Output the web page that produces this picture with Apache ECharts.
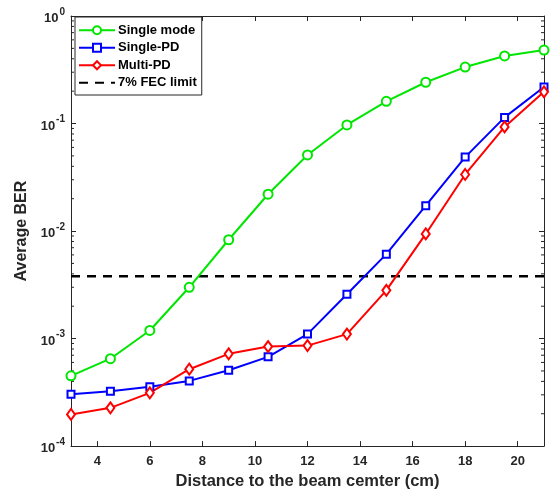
<!DOCTYPE html>
<html>
<head>
<meta charset="utf-8">
<script src="https://cdn.jsdelivr.net/npm/echarts@6/dist/echarts.min.js"></script>
<style>html,body{margin:0;padding:0;background:#fff}#c{width:552px;height:495px}</style>
</head>
<body>
<div id="c"></div>
<script>
const distances = [3, 4.5, 6, 7.5, 9, 10.5, 12, 13.5, 15, 16.5, 18, 19.5, 21];
const singleMode = [4.5e-4, 6.5e-4, 1.19e-3, 3.0e-3, 8.3e-3, 0.022, 0.051, 0.097, 0.161, 0.242, 0.335, 0.425, 0.482];
const singlePD = [3.04e-4, 3.24e-4, 3.56e-4, 4.04e-4, 5.08e-4, 6.76e-4, 1.10e-3, 2.58e-3, 6.1e-3, 0.0172, 0.0487, 0.114, 0.219];
const multiPD = [1.97e-4, 2.27e-4, 3.13e-4, 5.19e-4, 7.21e-4, 8.42e-4, 8.6e-4, 1.10e-3, 2.81e-3, 9.4e-3, 0.0336, 0.093, 0.197];
const fecLimit = 3.8e-3;
const xTicks = [4, 6, 8, 10, 12, 14, 16, 18, 20];
const minorTickValues = [];
[1e-4, 1e-3, 1e-2, 1e-1].forEach(d => { for (let k = 2; k <= 9; k++) minorTickValues.push(k * d); });

const axisColor = '#262626';
const font = 'Liberation Sans, Arial, sans-serif';
const pair = (ys) => distances.map((x, i) => [x, ys[i]]);

const chart = echarts.init(document.getElementById('c'));
chart.setOption({
  animation: false,
  backgroundColor: '#fff',
  textStyle: { fontFamily: font },
  grid: { left: 71, right: 8, top: 16, bottom: 48, containLabel: false },
  legend: {
    left: 75, top: 17, orient: 'vertical',
    data: ['Single mode', 'Single-PD', 'Multi-PD', '7% FEC limit'],
    itemWidth: 36, itemHeight: 10, itemGap: 3,
    padding: [6, 5, 5, 3],
    borderColor: axisColor, borderWidth: 1, borderRadius: 0,
    backgroundColor: '#fff',
    textStyle: { fontFamily: font, fontSize: 13, fontWeight: 'bold', color: '#000', padding: [0, 0, 0, -2], lineHeight: 14.5 }
  },
  xAxis: [{
    type: 'value', min: 3, max: 21,
    name: 'Distance to the beam cemter (cm)', nameLocation: 'middle', nameGap: 26,
    nameTextStyle: { fontSize: 16.5, fontWeight: 'bold', color: axisColor, fontFamily: font },
    axisLine: { show: true, lineStyle: { color: axisColor, width: 1 } },
    axisTick: { inside: true, length: 5, customValues: xTicks, lineStyle: { color: axisColor } },
    axisLabel: { customValues: xTicks, fontSize: 13, fontWeight: 'bold', color: axisColor, margin: 9, fontFamily: font },
    splitLine: { show: false }
  }, {
    type: 'value', min: 3, max: 21, position: 'top',
    axisLine: { show: true, lineStyle: { color: axisColor, width: 1 } },
    axisTick: { inside: true, length: 5, customValues: xTicks, lineStyle: { color: axisColor } },
    axisLabel: { show: false }, splitLine: { show: false }
  }],
  yAxis: [{
    type: 'log', logBase: 10, min: 1e-4, max: 1,
    name: 'Average BER', nameLocation: 'middle', nameGap: 32,
    nameTextStyle: { fontSize: 16, fontWeight: 'bold', color: axisColor, fontFamily: font },
    axisLine: { show: true, lineStyle: { color: axisColor, width: 1 } },
    axisTick: { inside: true, length: 5, lineStyle: { color: axisColor } },
    axisLabel: {
      margin: 6, fontFamily: font,
      formatter: function (v) {
        const e = Math.round(Math.log10(v));
        return '{b|10}{s|' + e + '}';
      },
      rich: {
        b: { fontSize: 13, fontWeight: 'bold', color: axisColor, fontFamily: font, verticalAlign: 'bottom', lineHeight: 18 },
        s: { fontSize: 10, fontWeight: 'bold', color: axisColor, fontFamily: font, verticalAlign: 'top', lineHeight: 14, padding: [0, 0, 0, 1] }
      }
    },
    splitLine: { show: false }
  }, {
    type: 'log', logBase: 10, min: 1e-4, max: 1, position: 'right',
    axisLine: { show: true, lineStyle: { color: axisColor, width: 1 } },
    axisTick: { inside: true, length: 5, lineStyle: { color: axisColor } },
    axisLabel: { show: false }, splitLine: { show: false }
  }],
  series: [
    {
      type: 'custom', name: 'minorTicks', silent: true, z: 1,
      data: minorTickValues.map(v => [3, v]),
      renderItem: function (params, api) {
        const v = api.value(1);
        const pl = api.coord([3, v]);
        const pr = api.coord([21, v]);
        return {
          type: 'group', children: [
            { type: 'line', shape: { x1: pl[0], y1: pl[1], x2: pl[0] + 3, y2: pl[1] }, style: { stroke: axisColor, lineWidth: 1 } },
            { type: 'line', shape: { x1: pr[0] - 3, y1: pr[1], x2: pr[0], y2: pr[1] }, style: { stroke: axisColor, lineWidth: 1 } }
          ]
        };
      }
    },
    {
      name: '7% FEC limit', type: 'line', data: [[3, fecLimit], [21, fecLimit]],
      symbol: 'none', lineStyle: { color: '#000', width: 2.5, type: [9, 7] },
      itemStyle: { color: 'rgba(0,0,0,0)', borderWidth: 0 }, z: 2
    },
    {
      name: 'Single mode', type: 'line', data: pair(singleMode),
      symbol: 'circle', symbolSize: 9,
      lineStyle: { color: '#00e600', width: 2 },
      itemStyle: { color: '#fff', borderColor: '#00e600', borderWidth: 2 }, z: 3
    },
    {
      name: 'Single-PD', type: 'line', data: pair(singlePD),
      symbol: 'rect', symbolSize: 7,
      lineStyle: { color: '#0000ff', width: 2 },
      itemStyle: { color: '#fff', borderColor: '#0000ff', borderWidth: 2 }, z: 3
    },
    {
      name: 'Multi-PD', type: 'line', data: pair(multiPD),
      symbol: 'diamond', symbolSize: [8, 11],
      lineStyle: { color: '#ff0000', width: 2 },
      itemStyle: { color: '#fff', borderColor: '#ff0000', borderWidth: 2 }, z: 3
    }
  ]
});
</script>
</body>
</html>
